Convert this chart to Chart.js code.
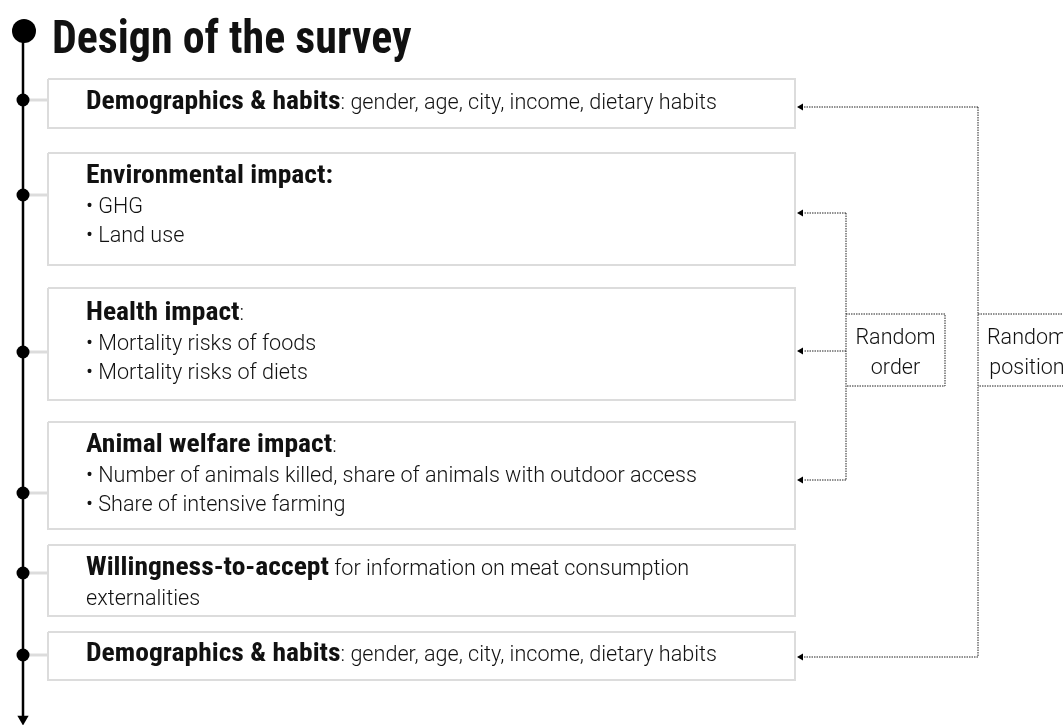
<!DOCTYPE html>
<html>
<head>
<meta charset="utf-8">
<script src="https://cdn.jsdelivr.net/npm/chart.js"></script>
<style>
  html, body { margin: 0; padding: 0; background: #fff; }
  #wrap { width: 1063px; height: 725px; }
</style>
</head>
<body>
<div id="wrap"><canvas id="survey"></canvas></div>
<script>
// Design of the survey - flow of the questionnaire blocks

const title = "Design of the survey";

// bold part, light part on the same first line, then the bullet lines
const stageHeads = ["Demographics & habits", "Environmental impact:", "Health impact", "Animal welfare impact", "Willingness-to-accept", "Demographics & habits"];
const stageTails = [": gender, age, city, income, dietary habits", "", ":", ":", " for information on meat consumption", ": gender, age, city, income, dietary habits"];
const stageLines = [
    [],
    ["\u2022 GHG", "\u2022 Land use"],
    ["\u2022 Mortality risks of foods", "\u2022 Mortality risks of diets"],
    ["\u2022 Number of animals killed, share of animals with outdoor access", "\u2022 Share of intensive farming"],
    ["externalities"],
    []
];

// randomisation groups: which stages they point to
const orderLabel = ["Random", "order"];
const orderTargets = [1, 2, 3];
const positionLabel = ["Random", "position"];
const positionTargets = [0, 5];

// layout (pixels in the 1063 x 725 frame)
const boxLeft = 48, boxRight = 795;
const boxTop = [79, 153, 288, 422, 545, 632];
const boxBottom = [128, 265, 400, 529, 616, 680];
const dotY = [100, 195, 352, 493, 573, 655];
const textY = [109, 183, 320, 452, 575, 661];
const arrowY = [107, 213, 351, 480, 0, 657];
const lineX = 23;
const textX = 86;
const orderX = 846, orderBoxRight = 945;
const positionX = 978, positionBoxRight = 1076;
const labelTop = 314, labelBottom = 386;
const arrowTipX = 801;

const boldFont = '"Roboto Condensed", Roboto, sans-serif';
const lightFont = 'Roboto, sans-serif';

const pt = (x, y) => ({ x: x, y: y });
const datasets = [];

// timeline dots
datasets.push({
    data: dotY.map(y => pt(lineX, y)).concat([pt(lineX + 1, 31)]),
    pointRadius: dotY.map(() => 6.5).concat([12]),
    pointBackgroundColor: "#000",
    pointBorderWidth: 0,
    showLine: false,
    order: 0
});

// arrowheads on the right
const arrowPts = orderTargets.concat(positionTargets).map(i => pt(arrowTipX, arrowY[i]));
datasets.push({
    data: arrowPts,
    pointStyle: "triangle",
    rotation: 270,
    pointRadius: 4,
    pointBackgroundColor: "#000",
    pointBorderWidth: 0,
    showLine: false,
    order: 0
});

// bottom arrow of the timeline
datasets.push({
    data: [pt(lineX, 719)],
    pointStyle: "triangle",
    rotation: 180,
    pointRadius: 6.5,
    pointBackgroundColor: "#000",
    pointBorderWidth: 0,
    showLine: false,
    order: 0
});

// vertical timeline
datasets.push({
    data: [pt(lineX, 31), pt(lineX, 716)],
    showLine: true, borderColor: "#000", borderWidth: 2.5, pointRadius: 0, order: 1
});

// grey connectors + boxes
dotY.forEach((y, i) => {
    datasets.push({
        data: [pt(lineX, y), pt(boxLeft, y)],
        showLine: true, borderColor: "#dcdcdc", borderWidth: 3, pointRadius: 0, order: 2
    });
    datasets.push({
        data: [pt(boxLeft, boxTop[i]), pt(boxRight, boxTop[i]), pt(boxRight, boxBottom[i]),
               pt(boxLeft, boxBottom[i]), pt(boxLeft, boxTop[i])],
        showLine: true, borderColor: "#dcdcdc", borderWidth: 2, pointRadius: 0, order: 3
    });
});

// dotted brackets
function dotted(points) {
    datasets.push({
        data: points, showLine: true, borderColor: "#222", borderWidth: 1,
        borderDash: [1.5, 1], pointRadius: 0, order: 1
    });
}
function bracket(x, targets) {
    const ys = targets.map(i => arrowY[i]);
    dotted([pt(x, Math.min(...ys)), pt(x, Math.max(...ys))]);
    targets.forEach(i => dotted([pt(x, arrowY[i]), pt(arrowTipX + 3, arrowY[i])]));
}
bracket(orderX, orderTargets);
bracket(positionX, positionTargets);
dotted([pt(orderX, labelTop), pt(orderBoxRight, labelTop), pt(orderBoxRight, labelBottom), pt(orderX, labelBottom)]);
dotted([pt(positionX, labelTop), pt(positionBoxRight, labelTop), pt(positionBoxRight, labelBottom), pt(positionX, labelBottom)]);

// text plugin
const textPlugin = {
    id: "surveyText",
    afterDraw(chart) {
        const ctx = chart.ctx;
        const sx = chart.scales.x, sy = chart.scales.y;
        const X = v => sx.getPixelForValue(v);
        const Y = v => sy.getPixelForValue(v);

        function bold(text, x, y, size, stretch) {
            ctx.save();
            ctx.font = "bold " + size + "px " + boldFont;
            ctx.translate(x, y);
            ctx.scale(stretch, 1);
            ctx.fillText(text, 0, 0);
            const w = ctx.measureText(text).width * stretch;
            ctx.restore();
            return w;
        }
        function light(text, x, y, size) {
            ctx.font = "300 " + size + "px " + lightFont;
            ctx.fillText(text, x, y);
            return ctx.measureText(text).width;
        }

        ctx.save();
        ctx.fillStyle = "#111";
        ctx.textBaseline = "alphabetic";
        ctx.textAlign = "left";

        bold(title, X(52), Y(53), 46, 0.955);

        stageHeads.forEach((head, i) => {
            const x0 = X(textX), y0 = Y(textY[i]);
            const w = bold(head, x0, y0, 26, 1.06);
            light(stageTails[i], x0 + w, y0, 21.6);
            stageLines[i].forEach((line, k) => light(line, x0, y0 + 29.5 * (k + 1), 21.6));
        });

        ctx.textAlign = "center";
        ctx.font = "300 21.5px " + lightFont;
        const oc = X((orderX + orderBoxRight) / 2);
        ctx.fillText(orderLabel[0], oc, Y(344));
        ctx.fillText(orderLabel[1], oc, Y(374));
        const pc = X((positionX + positionBoxRight) / 2);
        ctx.fillText(positionLabel[0], pc, Y(344));
        ctx.fillText(positionLabel[1], pc, Y(374));
        ctx.restore();
    }
};

new Chart(document.getElementById("survey"), {
    type: "scatter",
    data: { datasets: datasets },
    options: {
        responsive: true,
        maintainAspectRatio: false,
        animation: false,
        layout: { padding: 0, autoPadding: false },
        plugins: { legend: { display: false }, tooltip: { enabled: false } },
        scales: {
            x: { type: "linear", min: 0, max: 1063, display: false },
            y: { type: "linear", min: 0, max: 725, reverse: true, display: false }
        }
    },
    plugins: [textPlugin]
});
</script>
</body>
</html>
